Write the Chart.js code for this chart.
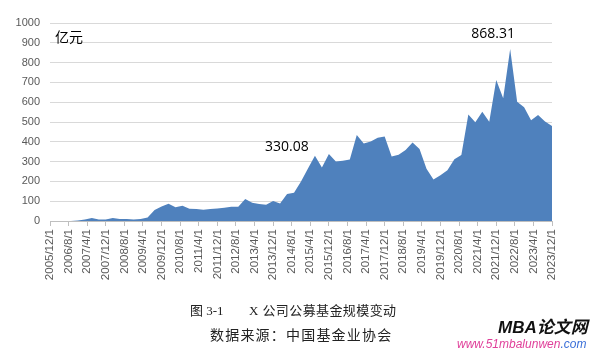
<!DOCTYPE html>
<html>
<head>
<meta charset="utf-8">
<script src="https://cdn.jsdelivr.net/npm/chart.js@4/dist/chart.umd.min.js"></script>
<style>
  html, body { margin: 0; padding: 0; background: #fff; }
  #wrap { position: relative; width: 591px; height: 351px; overflow: hidden; }
  #chart { position: absolute; left: 0; top: 0; }
  .cap { position: absolute; white-space: pre; color: #222; font-family: "Liberation Serif", "Noto Sans CJK SC", serif; }
  .mark { position: absolute; white-space: pre; }
</style>
</head>
<body>
<div id="wrap">
  <canvas id="chart" width="591" height="351"></canvas>
  <div class="cap" style="left:190px; top:300px; font-size:13px;">图 3-1</div>
  <div class="cap" style="left:249px; top:300px; font-size:13px; letter-spacing:0.4px;">X 公司公募基金规模变动</div>
  <div class="cap" style="left:210px; top:324px; font-size:14px; letter-spacing:1.2px;">数据来源：中国基金业协会</div>
  <div class="mark" style="left:498px; top:313px; font:italic bold 17px 'Liberation Sans', 'Noto Sans CJK SC', sans-serif; color:#111;">MBA论文网</div>
  <div class="mark" style="left:457px; top:337px; font:italic 12px 'Liberation Sans', sans-serif;"><span style="color:#e0409a;">www.51mbalunwen</span><span style="color:#3a6fd8;">.com</span></div>
</div>
<script>
// quarterly fund size (亿元), first point = 2005/12, one value every 3 months
const fundSize = [
  0, 0, 0, 0, 2, 8, 15, 8, 8, 15,
  10, 10, 8, 10, 18, 55, 73, 87, 70, 77,
  62, 60, 57, 60, 63, 67, 72, 72, 111, 92,
  86, 82, 101, 89, 136, 143, 200, 265, 330.08, 270,
  338, 300, 304, 311, 434, 392, 402, 420, 427, 326,
  335, 358, 396, 364, 264, 210, 231, 256, 312, 333,
  538, 499, 552, 501, 712, 620, 868.31, 602, 575, 509,
  535, 502, 480
];
// months since 2005/12 for each value
const quarterMonths = fundSize.map((v, i) => i * 3);

const tickLabels = [
  '2005/12/1', '2006/8/1', '2007/4/1', '2007/12/1', '2008/8/1', '2009/4/1', '2009/12/1',
  '2010/8/1', '2011/4/1', '2011/12/1', '2012/8/1', '2013/4/1', '2013/12/1', '2014/8/1',
  '2015/4/1', '2015/12/1', '2016/8/1', '2017/4/1', '2017/12/1', '2018/8/1', '2019/4/1',
  '2019/12/1', '2020/8/1', '2021/4/1', '2021/12/1', '2022/8/1', '2023/4/1', '2023/12/1'
];
const tickMonths = tickLabels.map((t, i) => i * 8);

const yTicks = [0, 100, 200, 300, 400, 500, 600, 700, 800, 900, 1000];

// labelled points: index in fundSize and text offset from the point
const callouts = [
  { index: 38, dx: -28, dy: -9 },
  { index: 66, dx: -17, dy: -15 }
];

const textPlugin = {
  id: 'texts',
  afterDatasetsDraw(chart) {
    const ctx = chart.ctx;
    const xs = chart.scales.x, ys = chart.scales.y;
    ctx.save();
    ctx.fillStyle = '#000';
    ctx.textBaseline = 'middle';
    ctx.font = '14px "Noto Sans CJK SC", sans-serif';
    ctx.textAlign = 'left';
    ctx.fillText('亿元', xs.left + 5, ys.getPixelForValue(930));
    ctx.font = '14px "Open Sans", sans-serif';
    ctx.textAlign = 'center';
    callouts.forEach(c => {
      const x = xs.getPixelForValue(quarterMonths[c.index]);
      const y = ys.getPixelForValue(fundSize[c.index]);
      ctx.fillText(fundSize[c.index].toFixed(2), x + c.dx, y + c.dy);
    });
    ctx.restore();
  }
};

new Chart(document.getElementById('chart'), {
  type: 'line',
  data: {
    datasets: [{
      data: fundSize.map((v, i) => ({ x: quarterMonths[i], y: v })),
      backgroundColor: '#4f81bd',
      borderWidth: 0,
      pointRadius: 0,
      fill: 'origin',
      tension: 0
    }]
  },
  options: {
    responsive: false,
    animation: false,
    layout: { padding: { left: 0, right: 39, top: 23, bottom: 70 } },
    plugins: { legend: { display: false }, tooltip: { enabled: false } },
    scales: {
      x: {
        type: 'linear',
        min: 0,
        max: 216,
        afterBuildTicks: s => { s.ticks = tickMonths.map(v => ({ value: v })); },
        afterFit: s => { s.height = 60; },
        border: { display: true, color: '#bfbfbf' },
        grid: { drawOnChartArea: false, drawTicks: true, tickLength: 5, color: '#bfbfbf' },
        ticks: {
          autoSkip: false,
          minRotation: 90,
          maxRotation: 90,
          padding: 3,
          color: '#595959',
          font: { family: 'Liberation Sans', size: 11.5 },
          callback: v => tickLabels[tickMonths.indexOf(v)]
        }
      },
      y: {
        min: 0,
        max: 1000,
        afterBuildTicks: s => { s.ticks = yTicks.map(v => ({ value: v })); },
        afterFit: s => { s.width = 50; },
        border: { display: false },
        grid: { color: '#d9d9d9', drawTicks: false },
        ticks: {
          padding: 10,
          color: '#595959',
          font: { family: 'Liberation Sans', size: 11 },
          callback: v => String(v)
        }
      }
    }
  },
  plugins: [textPlugin]
});
</script>
</body>
</html>
